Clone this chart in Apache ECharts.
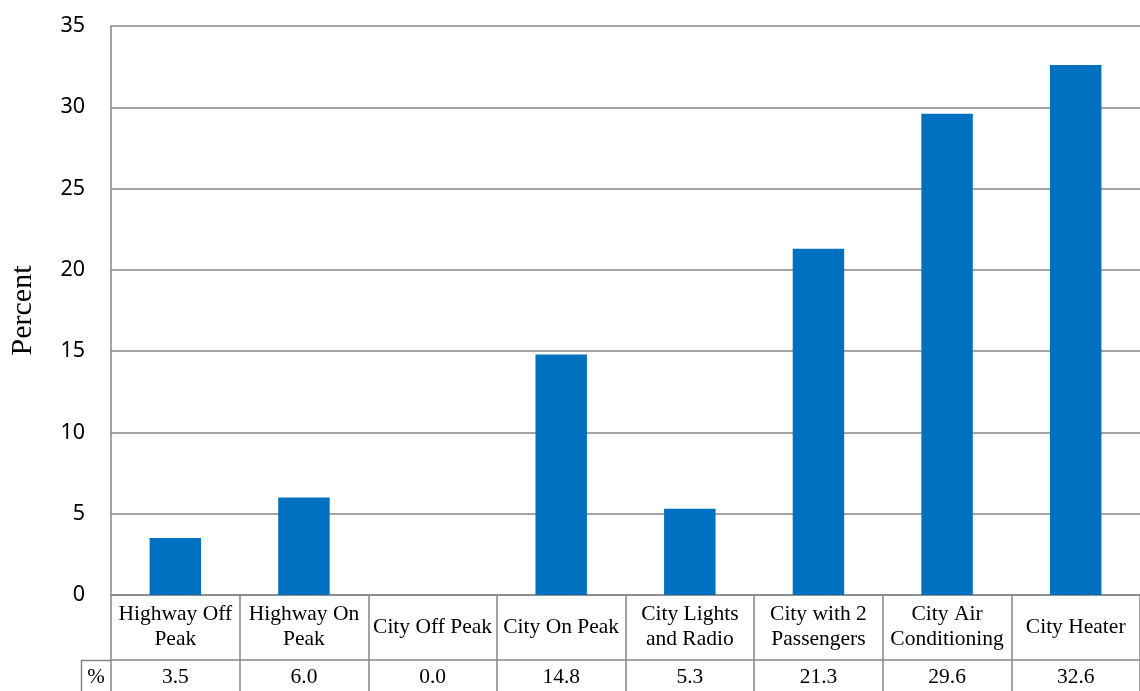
<!DOCTYPE html>
<html>
<head>
<meta charset="utf-8">
<style>
  html, body { margin: 0; padding: 0; background: #ffffff; }
  #chart { width: 1140px; height: 691px; }
</style>
<script src="https://cdn.jsdelivr.net/npm/echarts@6/dist/echarts.min.js"></script>
</head>
<body>
<div id="chart"></div>
<script>
// Test conditions, wrapped for the data table's header row
const categories = [
  'Highway Off\nPeak',
  'Highway On\nPeak',
  'City Off Peak',
  'City On Peak',
  'City Lights\nand Radio',
  'City with 2\nPassengers',
  'City Air\nConditioning',
  'City Heater'
];

// Percent values per condition
const percentValues = [3.5, 6.0, 0.0, 14.8, 5.3, 21.3, 29.6, 32.6];

// Value-axis ticks
const yMin = 0;
const yMax = 35;
const yStep = 5;

const gridColor = '#868686';
const lineW = 1.5;
const barColor = '#0070C0';
const serif = '"Liberation Serif", "Times New Roman", serif';

const chart = echarts.init(document.getElementById('chart'), null, { renderer: 'canvas' });

chart.setOption({
  animation: false,
  backgroundColor: '#ffffff',
  grid: { left: 111, right: 0, top: 26, bottom: 96, containLabel: false, outerBoundsMode: 'none' },
  xAxis: [
    {
      type: 'category',
      position: 'bottom',
      data: categories,
      axisLine: { show: true, lineStyle: { color: gridColor, width: lineW } },
      axisTick: { show: true, length: 65, interval: 0, alignWithLabel: false,
                  lineStyle: { color: gridColor, width: lineW } },
      axisLabel: {
        interval: 0, margin: 32, verticalAlign: 'middle', align: 'center',
        color: '#000', fontFamily: serif, fontSize: 21.5, lineHeight: 24.5
      }
    },
    {
      type: 'category',
      position: 'bottom',
      offset: 65,
      data: percentValues.map(v => v.toFixed(1)),
      axisLine: { show: true, lineStyle: { color: gridColor, width: lineW } },
      axisTick: { show: true, length: 40, interval: 0, alignWithLabel: false,
                  lineStyle: { color: gridColor, width: lineW } },
      axisLabel: {
        interval: 0, margin: 17, verticalAlign: 'middle', align: 'center',
        color: '#000', fontFamily: serif, fontSize: 21.5
      }
    }
  ],
  yAxis: {
    type: 'value',
    min: yMin,
    max: yMax,
    interval: yStep,
    name: 'Percent',
    nameLocation: 'middle',
    nameGap: 73,
    nameRotate: 90,
    nameTextStyle: { color: '#000', fontFamily: serif, fontSize: 30 },
    axisLine: { show: true, lineStyle: { color: gridColor, width: lineW } },
    axisTick: { show: false },
    axisLabel: { color: '#000', fontFamily: '"Noto Sans", sans-serif', fontSize: 21.5, margin: 26 },
    splitLine: { show: true, lineStyle: { color: gridColor, width: lineW } }
  },
  graphic: [
    // Row-header cell of the data table
    { type: 'line', shape: { x1: 81, y1: 660.5, x2: 111, y2: 660.5 },
      style: { stroke: gridColor, lineWidth: lineW } },
    { type: 'line', shape: { x1: 81.5, y1: 660, x2: 81.5, y2: 700 },
      style: { stroke: gridColor, lineWidth: lineW } },
    { type: 'text', x: 96, y: 677,
      style: { text: '%', fill: '#000', font: '21px ' + serif, textAlign: 'center', textVerticalAlign: 'middle' } }
  ],
  series: [
    {
      type: 'bar',
      xAxisIndex: 0,
      data: percentValues,
      barCategoryGap: '60%',
      itemStyle: { color: barColor }
    }
  ]
});
</script>
</body>
</html>
